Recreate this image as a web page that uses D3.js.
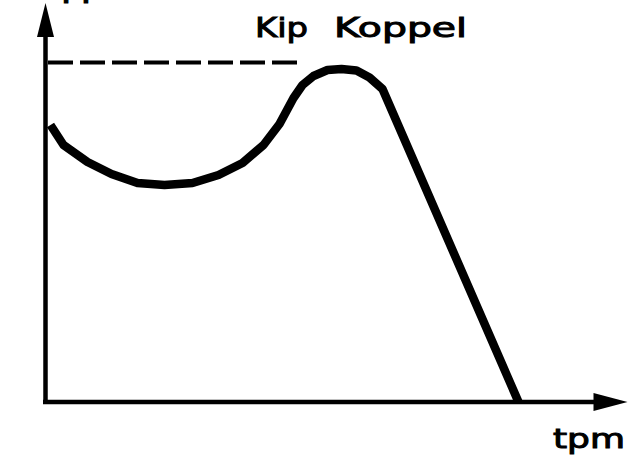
<!DOCTYPE html>
<html>
<meta charset="utf-8">
<style>
body { margin: 0; background: #fff; }
.lbl { font-family: "DejaVu Sans", sans-serif; font-size: 27px; fill: #000; stroke: #000; stroke-width: 1px; }
</style>
<body>
<svg id="chart" width="635" height="462"></svg>
<script src="https://cdnjs.cloudflare.com/ajax/libs/d3/7.8.5/d3.min.js"></script>
<script>

// torque curve (arbitrary units)
var rpm    = [1, 3.6, 8.4, 13.2, 18.4, 23.8, 29.4, 34.6, 39.4, 43.6, 46.8, 49.6, 51.4, 53.6, 56.4, 59.2, 62.2, 64.8, 67.4, 94.6];
var torque = [55.4, 51.4, 48, 45.6, 43.8, 43.4, 43.8, 45.4, 47.8, 51.4, 55.6, 60.8, 63.4, 65.2, 66.4, 66.6, 66.3, 64.9, 62.6, 0];
var kipTorque = 67.9;   // dashed line level
var kipEnd = 50.8;      // dashed line stops here
var labels = {y: "M", kip: ["Kip", "Koppel"], x: "tpm"};

var svg = d3.select("#chart");

var x = d3.scaleLinear().domain([0, 116.4]).range([45.5, 627.5]);
var y = d3.scaleLinear().domain([0, 79.8]).range([402, 3]);

var arrowLen = 34, arrowHalf = 9;

// axes with arrow heads
var x0 = x.range()[0], y0 = y.range()[0];
svg.append("line")
    .attr("x1", x0 - 2.5).attr("x2", x.range()[1] - arrowLen + 1)
    .attr("y1", y0).attr("y2", y0)
    .attr("stroke", "#000").attr("stroke-width", 4.5);
svg.append("path")
    .attr("d", "M" + x.range()[1] + "," + y0 + "L" + (x.range()[1] - arrowLen) + "," + (y0 - arrowHalf) + "L" + (x.range()[1] - arrowLen) + "," + (y0 + arrowHalf) + "Z")
    .attr("fill", "#000");

svg.append("line")
    .attr("x1", x0).attr("x2", x0)
    .attr("y1", y0 + 2).attr("y2", y.range()[1] + arrowLen - 1)
    .attr("stroke", "#000").attr("stroke-width", 4.5);
svg.append("path")
    .attr("d", "M" + x0 + "," + y.range()[1] + "L" + (x0 - arrowHalf + 0.5) + "," + (y.range()[1] + arrowLen) + "L" + (x0 + arrowHalf - 0.5) + "," + (y.range()[1] + arrowLen) + "Z")
    .attr("fill", "#000");

// kip koppel dashed line
svg.append("line")
    .attr("x1", x0 + 2.5).attr("x2", x(kipEnd))
    .attr("y1", y(kipTorque)).attr("y2", y(kipTorque))
    .attr("stroke", "#000").attr("stroke-width", 4)
    .attr("stroke-dasharray", "25,7");

// torque curve
var pts = rpm.map(function(d, i) { return [d, torque[i]]; });
var line = d3.line()
    .x(function(d) { return x(d[0]); })
    .y(function(d) { return y(d[1]); });

svg.append("path")
    .datum(pts)
    .attr("d", line)
    .attr("fill", "none")
    .attr("stroke", "#000")
    .attr("stroke-width", 8.5)
    .attr("stroke-linejoin", "round")
    .attr("stroke-linecap", "butt");

// texts
svg.append("text").attr("class", "lbl")
    .attr("x", 61).attr("y", 3)
    .attr("textLength", 30).attr("lengthAdjust", "spacingAndGlyphs")
    .text(labels.y);

svg.append("text").attr("class", "lbl")
    .attr("x", 255).attr("y", 36.5)
    .attr("textLength", 53).attr("lengthAdjust", "spacingAndGlyphs")
    .text(labels.kip[0]);

svg.append("text").attr("class", "lbl")
    .attr("x", 334).attr("y", 36.5)
    .attr("textLength", 133).attr("lengthAdjust", "spacingAndGlyphs")
    .text(labels.kip[1]);

svg.append("text").attr("class", "lbl")
    .attr("x", 553).attr("y", 448)
    .attr("textLength", 72).attr("lengthAdjust", "spacingAndGlyphs")
    .text(labels.x);

</script>
</body>
</html>
